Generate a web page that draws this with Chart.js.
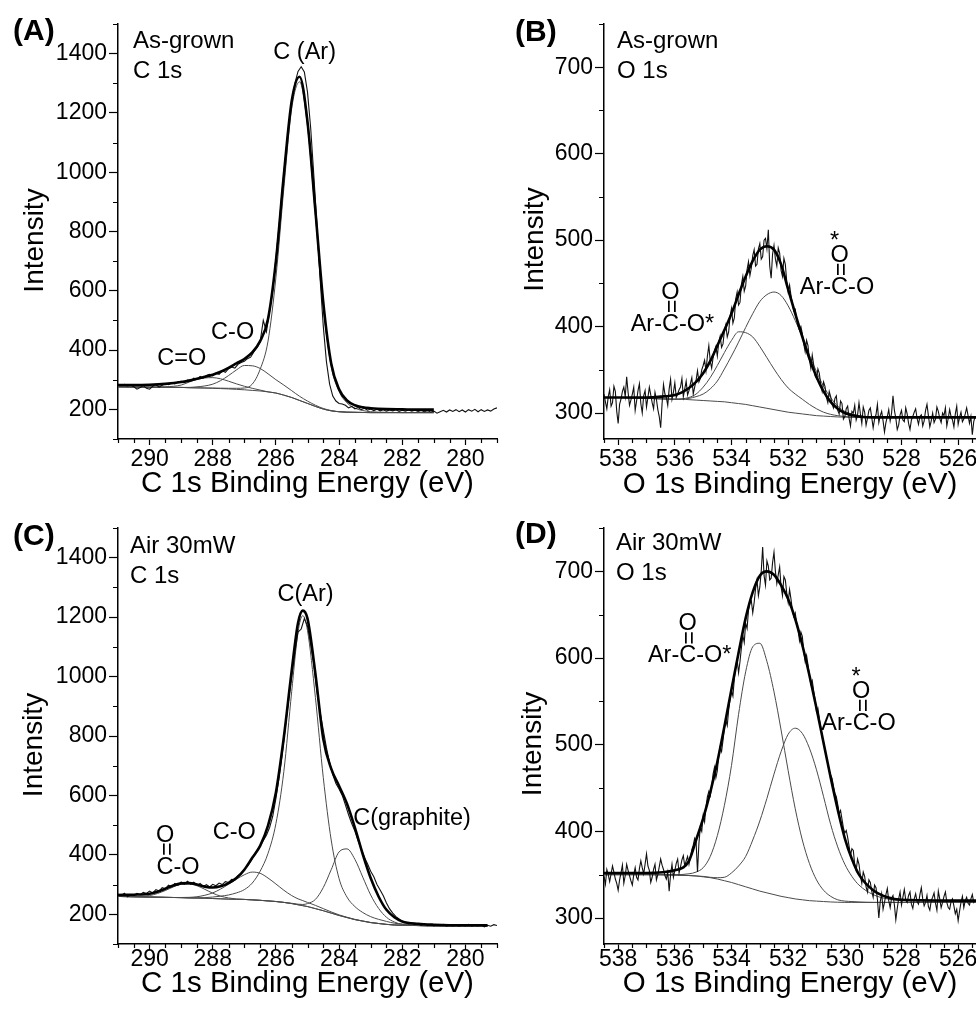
<!DOCTYPE html>
<html>
<head>
<meta charset="utf-8">
<title>XPS C 1s / O 1s</title>
<script src="https://cdn.jsdelivr.net/npm/chart.js@4.4.0/dist/chart.umd.min.js"></script>
<style>
  html, body { margin: 0; padding: 0; background: #fff; }
  #wrap { position: relative; width: 976px; height: 1012px; overflow: hidden; background: #fff; }
  #wrap canvas { position: absolute; }
</style>
</head>
<body>
<div id="wrap">
  <canvas id="panelA" width="520" height="500" style="left:0;top:0"></canvas>
  <canvas id="panelB" width="520" height="500" style="left:488px;top:0"></canvas>
  <canvas id="panelC" width="520" height="512" style="left:0;top:500px"></canvas>
  <canvas id="panelD" width="520" height="512" style="left:488px;top:500px"></canvas>
</div>
<script>
const FONT = "'Liberation Sans', Arial, Helvetica, sans-serif";

// ---------- (A) as-grown, C 1s ----------
const aFitE = [291, 290.5, 290, 289.5, 289, 288.75, 288.5, 288.25, 288, 287.75, 287.5, 287.25, 287,
  286.75, 286.5, 286.25, 286, 285.75, 285.5, 285.25, 285, 284.75, 284.5, 284.25, 284, 283.75,
  283.5, 283.25, 283, 282.5, 282, 281.5, 281];
const aEnvelope = [282, 282, 283, 286, 292, 297, 303, 310, 317, 327, 340, 355, 370,
  392, 430, 505, 700, 990, 1240, 1322, 1170, 870, 560, 355, 268, 230,
  214, 207, 204, 201, 200, 199, 199];
const aCAr = [276, 275.5, 275, 274.5, 274, 273, 272.5, 272, 272, 271.5, 271, 271, 272,
  285, 335, 430, 645, 945, 1215, 1305, 1155, 855, 545, 345, 260, 222,
  204, 196, 192, 190, 189, 189, 189];
const aCO = [276, 275.5, 275, 274.5, 274, 274, 276, 279, 285, 297, 314, 333, 348,
  347, 338, 320, 300, 282, 263, 244, 228, 214, 203, 196, 192, 190.5,
  190, 189.5, 189, 189, 189, 189, 189];
const aCdO = [276, 275.5, 275, 276, 282, 292, 301, 306, 307, 303, 295, 286, 278,
  271, 265, 259, 255, 248, 240, 230, 220, 210, 201, 195, 192, 190.5,
  190, 189.5, 189, 189, 189, 189, 189];
const aBg = [276, 275.5, 275, 274.5, 274, 273, 272.5, 272, 271, 270, 269, 267.5, 266,
  264, 262, 259, 255, 248, 240, 230, 220, 210, 201, 195, 192, 190.5,
  190, 189.5, 189, 189, 189, 189, 189];
// measured counts, 291.0 eV down to 279.0 eV every 0.1 eV
const aRawStart = 291, aRawStep = 0.1;
const aRaw = [
  283, 280, 284, 279, 282, 276, 268, 274, 280, 271,
  268, 278, 284, 275, 281, 287, 283, 290, 286, 293,
  295, 291, 299, 296, 305, 301, 311, 306, 314, 318,
  313, 322, 318, 330, 325, 337, 343, 339, 352, 358,
  362, 371, 376, 394, 408, 428, 500, 462, 530, 600,
  710, 820, 940, 1050, 1150, 1240, 1300, 1340, 1356, 1338,
  1270, 1150, 990, 820, 640, 480, 360, 285, 245, 228,
  220, 218, 214, 205, 210, 202, 206, 199, 204, 197,
  201, 196, 200, 195, 199, 194, 198, 195, 199, 193,
  197, 194, 198, 194, 197, 193, 196, 192, 195, 191,
  194, 187, 192, 197, 191, 198, 193, 199, 192, 198,
  191, 199, 194, 200, 192, 199, 193, 198, 194, 201,
  205];

// ---------- (B) as-grown, O 1s ----------
const bFitE = [538.5, 538, 537.5, 537, 536.5, 536, 535.75, 535.5, 535.25, 535, 534.75, 534.5,
  534.25, 534, 533.75, 533.5, 533.25, 533, 532.75, 532.5, 532.25, 532, 531.75, 531.5,
  531.25, 531, 530.75, 530.5, 530.25, 530, 529.5, 529, 528, 527, 526, 525.37];
const bEnvelope = [318, 318, 318, 318, 319, 321, 324, 329, 336, 346, 360, 378,
  396, 415, 437, 458, 476, 489, 493, 489, 472, 443, 415, 388,
  363, 342, 325, 313, 305, 300, 296, 295, 295, 295, 295, 295];
const bArCOstar = [318, 318, 317.5, 317, 316.5, 316, 316.5, 318, 322, 330, 341, 355,
  370, 384, 394, 393, 388, 377, 364, 351, 339, 329, 322, 316,
  310, 305, 301, 298.5, 297, 296, 295, 295, 295, 295, 295, 295];
const bArCO = [318, 318, 317.5, 317, 316.5, 316, 316, 317, 319, 322, 328, 337,
  351, 366, 382, 399, 415, 429, 437, 440, 436, 424, 407, 388,
  367, 348, 331, 318, 308, 302, 297, 295, 295, 295, 295, 295];
const bBg = [318, 318, 317.5, 317, 316.5, 316, 316, 315.5, 315, 314.5, 314, 313.5,
  313, 312, 311, 310, 308.5, 307, 305.5, 304, 302.5, 301, 300, 299,
  298, 297, 296.5, 296, 295.5, 295.3, 295, 295, 295, 295, 295, 295];
// measured counts, 538.5 eV down to 525.4 eV every 0.05 eV
const bRawStart = 538.5, bRawStep = 0.05;
const bRaw = [
  322, 313, 305, 319, 327, 308, 312, 331, 325, 302, 288, 310, 316, 325, 330, 319, 342, 324, 309, 315,
  322, 330, 303, 314, 326, 334, 311, 300, 320, 326, 307, 318, 330, 321, 312, 305, 324, 316, 304, 296,
  283, 311, 333, 322, 318, 309, 328, 339, 316, 324, 335, 318, 322, 327, 330, 340, 319, 328, 337, 321,
  326, 334, 341, 322, 330, 338, 349, 336, 340, 350, 355, 361, 349, 366, 378, 360, 352, 364, 372, 377,
  366, 382, 389, 376, 380, 395, 402, 388, 394, 412, 421, 404, 410, 432, 440, 425, 428, 449, 458, 441,
  447, 466, 475, 459, 468, 482, 489, 470, 472, 490, 496, 478, 481, 500, 502, 490, 512, 470, 456, 484,
  494, 478, 470, 491, 485, 465, 458, 479, 472, 452, 440, 448, 436, 426, 418, 420, 409, 401, 396, 400,
  392, 380, 371, 384, 378, 362, 352, 367, 356, 343, 340, 351, 346, 333, 325, 336, 331, 318, 312, 325,
  319, 310, 306, 317, 320, 303, 299, 314, 311, 293, 296, 305, 308, 294, 285, 302, 300, 309, 292, 298,
  312, 299, 288, 307, 301, 286, 294, 303, 306, 295, 283, 293, 298, 310, 289, 297, 302, 291, 278, 289,
  296, 304, 291, 300, 320, 303, 294, 281, 286, 298, 303, 292, 290, 306, 299, 288, 281, 292, 296, 301,
  305, 294, 287, 296, 298, 285, 291, 303, 310, 297, 284, 291, 300, 289, 293, 307, 302, 294, 289, 300,
  297, 306, 285, 294, 304, 296, 292, 284, 299, 308, 287, 295, 301, 290, 293, 299, 306, 297, 288, 296,
  275, 290, 296];

// ---------- (C) air 30 mW, C 1s ----------
const cFitE = [291, 290.5, 290, 289.75, 289.5, 289.25, 289, 288.75, 288.5, 288.25, 288,
  287.75, 287.5, 287.25, 287, 286.75, 286.5, 286.25, 286, 285.75, 285.5, 285.3, 285.15,
  285, 284.75, 284.5, 284.25, 284, 283.75, 283.5, 283.25, 283, 282.75, 282.5, 282.25,
  282, 281.5, 281, 280, 279.3];
const cEnvelope = [265, 266, 269, 276, 286, 297, 304, 305, 300, 293, 290,
  294, 305, 322, 350, 390, 430, 498, 610, 795, 1020, 1180, 1222,
  1195, 1010, 790, 690, 632, 572, 492, 402, 322, 260, 215, 190,
  176, 168, 165, 163, 163];
const cCAr = [260, 259, 258, 257.5, 257, 256.5, 256, 255.5, 255.5, 256, 258,
  261, 265, 272, 283, 305, 345, 405, 505, 680, 950, 1150, 1205,
  1155, 930, 660, 450, 320, 258, 226, 206, 192, 183, 176, 170,
  167, 164, 162, 161, 161];
const cGraphite = [260, 259, 258, 257.5, 257, 256.5, 256, 255, 254.5, 254, 253,
  252, 251, 250.5, 250, 248.5, 247, 245, 243, 240, 237, 234, 233,
  236, 250, 290, 350, 410, 420, 385, 325, 265, 220, 190, 174,
  166, 162, 161, 161, 161];
const cCO = [260, 259, 258, 257.5, 257, 256.5, 256.5, 257, 259, 264, 272,
  285, 301, 318, 333, 342, 338, 322, 302, 281, 263, 252, 246,
  240, 230, 219, 208, 198, 190, 183, 177.5, 172.5, 169, 166, 164,
  163, 162, 161, 161, 161];
const cOCO = [260, 260, 263, 270, 280, 292, 301, 302, 296, 284, 271,
  261, 255, 251.5, 250, 248.5, 247, 245, 243, 240, 236, 232, 229,
  226, 219, 212, 204, 196, 189, 182, 177, 172, 169, 166, 164,
  163, 162, 161, 161, 161];
const cBg = [260, 259, 258, 257.5, 257, 256.5, 256, 255, 254.5, 254, 253,
  252, 251, 250.5, 250, 248.5, 247, 245, 243, 240, 236, 232, 229,
  226, 219, 212, 204, 196, 189, 182, 177, 172, 169, 166, 164,
  163, 162, 161, 161, 161];
// measured counts, 291.0 eV down to 279.0 eV every 0.1 eV
const cRawStart = 291, cRawStep = 0.1;
const cRaw = [
  268, 262, 271, 259, 266, 263, 270, 266, 274, 270,
  278, 272, 283, 278, 290, 286, 298, 293, 304, 298,
  309, 301, 311, 302, 308, 298, 304, 294, 300, 292,
  301, 296, 305, 300, 310, 307, 318, 316, 330, 336,
  352, 362, 378, 398, 415, 430, 448, 466, 492, 530,
  590, 660, 740, 830, 920, 1000, 1080, 1150, 1160, 1195,
  1170, 1110, 1040, 950, 880, 820, 760, 710, 670, 640,
  622, 600, 568, 535, 505, 480, 448, 420, 392, 370,
  345, 326, 300, 282, 262, 238, 218, 204, 192, 184,
  176, 172, 168, 170, 165, 168, 163, 167, 162, 166,
  161, 165, 162, 166, 160, 164, 161, 165, 160, 164,
  161, 166, 160, 164, 161, 165, 158, 163, 160, 165,
  162];

// ---------- (D) air 30 mW, O 1s ----------
const dFitE = [538.5, 537, 536, 535.5, 535.25, 535, 534.75, 534.5, 534.25, 534, 533.75,
  533.5, 533.25, 533, 532.75, 532.5, 532.25, 532, 531.75, 531.5, 531.25, 531, 530.75,
  530.5, 530.25, 530, 529.75, 529.5, 529, 528.5, 528, 525.37];
const dEnvelope = [352, 352, 355, 366, 390, 415, 445, 480, 521, 564, 606,
  646, 676, 695, 700, 696, 684, 668, 645, 615, 580, 542, 502,
  462, 425, 392, 368, 350, 332, 324, 321, 320];
const dArCOstar = [350, 350, 350, 351, 353, 358, 371, 395, 430, 476, 535,
  584, 613, 617, 596, 561, 517, 470, 426, 390, 363, 344, 332,
  325, 321, 319.5, 319, 318.5, 318, 318, 318, 318];
const dArCO = [350, 350, 349.5, 349, 348.5, 348, 347, 346.5, 347, 352, 360,
  371, 390, 412, 438, 466, 492, 512, 519, 513, 496, 471, 440,
  408, 382, 362, 348, 338, 327, 322, 320, 319];
const dBg = [350, 350, 349.5, 349, 348.5, 347.5, 346.5, 345, 343, 341, 338.5,
  336, 333.5, 331, 329, 327, 325, 323.5, 322, 321, 320, 319.5, 319,
  318.5, 318.2, 318, 318, 318, 318, 318, 318, 318];
// measured counts, 538.5 eV down to 525.4 eV every 0.05 eV
const dRawStart = 538.5, dRawStep = 0.05;
const dRaw = [
  348, 339, 356, 350, 342, 351, 360, 353, 345, 340, 332, 344, 352, 361, 340, 349, 362, 355, 349, 343,
  338, 350, 358, 347, 344, 357, 366, 358, 351, 362, 374, 360, 355, 341, 347, 356, 362, 344, 350, 359,
  368, 361, 356, 349, 345, 353, 331, 350, 362, 347, 355, 363, 368, 352, 359, 367, 372, 360, 366, 371,
  362, 370, 379, 384, 392, 388, 353, 386, 405, 400, 418, 411, 428, 440, 446, 441, 452, 466, 474, 462,
  470, 488, 497, 492, 505, 519, 528, 522, 540, 553, 562, 556, 576, 591, 598, 583, 596, 612, 626, 618,
  640, 634, 655, 664, 666, 652, 664, 680, 690, 672, 682, 700, 728, 695, 684, 712, 706, 690, 692, 710,
  722, 700, 686, 696, 705, 682, 672, 694, 690, 675, 664, 679, 668, 655, 648, 652, 640, 633, 620, 630,
  625, 608, 596, 603, 592, 580, 570, 574, 562, 552, 538, 542, 530, 520, 509, 503, 494, 486, 478, 470,
  465, 461, 452, 444, 440, 431, 420, 424, 414, 404, 398, 401, 393, 383, 372, 380, 378, 361, 355, 368,
  362, 349, 340, 353, 348, 336, 330, 344, 341, 331, 324, 338, 335, 322, 300, 319, 328, 310, 318, 327,
  334, 320, 312, 323, 326, 315, 298, 311, 322, 330, 315, 324, 333, 321, 318, 326, 330, 316, 311, 322,
  328, 319, 316, 327, 335, 322, 314, 318, 326, 313, 309, 320, 324, 329, 317, 309, 331, 322, 312, 318,
  325, 330, 318, 312, 310, 319, 322, 314, 305, 310, 297, 308, 318, 325, 312, 320, 324, 317, 315, 322,
  327, 318, 320];

// ---------- helpers ----------
function stepValues(min, max, step) {
  const out = [];
  for (let k = Math.ceil(min / step - 1e-9); k * step <= max + 1e-9; k++) {
    out.push(+(k * step).toFixed(4));
  }
  return out;
}
function isMultiple(v, step) {
  return Math.abs(v / step - Math.round(v / step)) < 1e-6;
}

// minor ticks, panel letter, captions, axis titles and peak assignments
function decorations(p) {
  return {
    id: 'decorations',
    afterDraw(chart) {
      const { ctx, chartArea: ca } = chart;
      const xs = chart.scales.x, ys = chart.scales.y;
      ctx.save();

      // minor ticks
      ctx.strokeStyle = '#000';
      ctx.lineWidth = 1.2;
      ctx.beginPath();
      stepValues(xs.min, xs.max, p.xMinor).forEach(v => {
        if (isMultiple(v, p.xMajor)) return;
        const px = Math.round(xs.getPixelForValue(v)) + 0.5;
        ctx.moveTo(px, ca.bottom);
        ctx.lineTo(px, ca.bottom + 4);
      });
      stepValues(ys.min, ys.max, p.yMinor).forEach(v => {
        if (isMultiple(v, p.yMajor)) return;
        const py = Math.round(ys.getPixelForValue(v)) + 0.5;
        ctx.moveTo(ca.left, py);
        ctx.lineTo(ca.left - 5, py);
      });
      ctx.stroke();

      ctx.fillStyle = '#000';
      ctx.textBaseline = 'alphabetic';

      // panel letter
      ctx.textAlign = 'left';
      ctx.font = 'bold 30px ' + FONT;
      ctx.fillText(p.letter, p.letterAt[0], p.letterAt[1]);

      // sample / core level caption
      ctx.font = '24px ' + FONT;
      p.caption.forEach((line, i) => {
        ctx.fillText(line, p.captionAt[0], p.captionAt[1] + i * 30);
      });

      // axis titles
      ctx.textAlign = 'center';
      ctx.font = '29.5px ' + FONT;
      ctx.fillText(p.xTitle, (ca.left + ca.right) / 2, p.xTitleY);
      ctx.font = '28px ' + FONT;
      ctx.save();
      ctx.translate(p.yTitleX, (ca.top + ca.bottom) / 2 + p.yTitleShift);
      ctx.rotate(-Math.PI / 2);
      ctx.fillText('Intensity', 0, 0);
      ctx.restore();

      // peak assignments, anchored in data coordinates
      ctx.font = '23.5px ' + FONT;
      p.peaks.forEach(pk => {
        const px = xs.getPixelForValue(pk.e);
        const py = ys.getPixelForValue(pk.v);
        ctx.textAlign = pk.align || 'left';
        ctx.fillText(pk.text, px, py);
        if (pk.carbonyl === undefined) return;
        // double-bonded O stacked over the carbon
        const pre = ctx.measureText(pk.text.slice(0, pk.carbonyl)).width;
        const cx = px + pre + ctx.measureText('C').width / 2;
        ctx.textAlign = 'center';
        ctx.fillText('O', cx, py - 32);
        ctx.save();
        ctx.translate(cx, py - 24.5);
        ctx.rotate(Math.PI / 2);
        ctx.textBaseline = 'middle';
        ctx.fillText('=', 0, 0);
        ctx.restore();
        if (pk.star) ctx.fillText('*', cx - 5, py - 46);
      });
      ctx.restore();
    }
  };
}

function buildPanel(canvasId, p) {
  const fit = vals => p.fitE.map((e, i) => ({ x: e, y: vals[i] }));
  const raw = p.raw.map((v, i) => ({ x: +(p.rawStart - i * p.rawStep).toFixed(3), y: v }));
  const thin = (vals, order) => ({
    data: fit(vals), borderColor: '#4a4a4a', borderWidth: 1,
    cubicInterpolationMode: 'monotone', order
  });

  const datasets = [
    { data: fit(p.envelope), borderColor: '#000', borderWidth: 2.6,
      cubicInterpolationMode: 'monotone', order: 0 },
    { data: raw, borderColor: '#111', borderWidth: 1.1, tension: 0, order: 1 }
  ];
  p.components.forEach((c, i) => datasets.push(thin(c, 2 + i)));
  datasets.push(thin(p.bg, 9));

  const tickFont = { family: FONT, size: 23 };

  return new Chart(document.getElementById(canvasId), {
    type: 'line',
    data: { datasets },
    options: {
      responsive: false,
      animation: false,
      devicePixelRatio: 1,
      events: [],
      elements: { point: { radius: 0 }, line: { fill: false } },
      layout: { padding: { left: 0, right: p.padRight, top: p.padTop, bottom: 0 } },
      plugins: { legend: { display: false }, tooltip: { enabled: false } },
      scales: {
        x: {
          type: 'linear',
          reverse: true,
          min: p.xMin,
          max: p.xMax,
          afterBuildTicks: ax => { ax.ticks = stepValues(p.xMin, p.xMax, p.xMajor).map(v => ({ value: v })); },
          afterFit: ax => { ax.height = p.xAxisH; },
          ticks: { font: tickFont, color: '#000', padding: p.xLabelPad, maxRotation: 0, minRotation: 0,
                   autoSkip: false, callback: v => String(v) },
          grid: { drawOnChartArea: false, tickLength: 6, tickWidth: 1.2, tickColor: '#000' },
          border: { color: '#000', width: 1.5 }
        },
        y: {
          type: 'linear',
          min: p.yMin,
          max: p.yMax,
          afterBuildTicks: ax => { ax.ticks = stepValues(p.yMin, p.yMax, p.yMajor).map(v => ({ value: v })); },
          afterFit: ax => { ax.width = p.yAxisW; },
          ticks: { font: tickFont, color: '#000', padding: 2, autoSkip: false, callback: v => String(v) },
          grid: { drawOnChartArea: false, tickLength: 9, tickWidth: 1.2, tickColor: '#000' },
          border: { color: '#000', width: 1.5 }
        }
      }
    },
    plugins: [decorations(p)]
  });
}

const c1sTitle = 'C 1s Binding Energy (eV)';
const o1sTitle = 'O 1s Binding Energy (eV)';

buildPanel('panelA', {
  fitE: aFitE, envelope: aEnvelope, components: [aCAr, aCO, aCdO], bg: aBg,
  raw: aRaw, rawStart: aRawStart, rawStep: aRawStep,
  xMin: 279, xMax: 291, xMajor: 2, xMinor: 0.5,
  yMin: 100, yMax: 1500, yMajor: 200, yMinor: 100,
  padTop: 24, padRight: 23, xAxisH: 61, yAxisW: 118, xLabelPad: 1,
  letter: '(A)', letterAt: [13, 40], caption: ['As-grown', 'C 1s'], captionAt: [133, 48],
  xTitle: c1sTitle, xTitleY: 492, yTitleX: 43, yTitleShift: 9,
  peaks: [
    { text: 'C (Ar)', e: 285.09, v: 1382, align: 'center' },
    { text: 'C-O', e: 287.37, v: 436, align: 'center' },
    { text: 'C=O', e: 288.98, v: 350, align: 'center' }
  ]
});

buildPanel('panelB', {
  fitE: bFitE, envelope: bEnvelope, components: [bArCOstar, bArCO], bg: bBg,
  raw: bRaw, rawStart: bRawStart, rawStep: bRawStep,
  xMin: 525.37, xMax: 538.5, xMajor: 2, xMinor: 0.5,
  yMin: 270, yMax: 750, yMajor: 100, yMinor: 50,
  padTop: 24, padRight: 32, xAxisH: 61, yAxisW: 116, xLabelPad: 1,
  letter: '(B)', letterAt: [27, 41], caption: ['As-grown', 'O 1s'], captionAt: [129, 48],
  xTitle: o1sTitle, xTitleY: 493, yTitleX: 55, yTitleShift: 8,
  peaks: [
    { text: 'Ar-C-O*', e: 537.56, v: 395, carbonyl: 3 },
    { text: 'Ar-C-O', e: 531.59, v: 438, carbonyl: 3, star: true }
  ]
});

buildPanel('panelC', {
  fitE: cFitE, envelope: cEnvelope, components: [cCAr, cGraphite, cCO, cOCO], bg: cBg,
  raw: cRaw, rawStart: cRawStart, rawStep: cRawStep,
  xMin: 279, xMax: 291, xMajor: 2, xMinor: 0.5,
  yMin: 100, yMax: 1500, yMajor: 200, yMinor: 100,
  padTop: 28, padRight: 23, xAxisH: 68, yAxisW: 118, xLabelPad: -4,
  letter: '(C)', letterAt: [13, 45], caption: ['Air 30mW', 'C 1s'], captionAt: [130, 53],
  xTitle: c1sTitle, xTitleY: 492, yTitleX: 42, yTitleShift: 9,
  peaks: [
    { text: 'C(Ar)', e: 285.06, v: 1256, align: 'center' },
    { text: 'C(graphite)', e: 283.55, v: 500 },
    { text: 'C-O', e: 287.32, v: 455, align: 'center' },
    { text: 'C-O', e: 289.78, v: 337, carbonyl: 0 }
  ]
});

buildPanel('panelD', {
  fitE: dFitE, envelope: dEnvelope, components: [dArCOstar, dArCO], bg: dBg,
  raw: dRaw, rawStart: dRawStart, rawStep: dRawStep,
  xMin: 525.37, xMax: 538.5, xMajor: 2, xMinor: 0.5,
  yMin: 270, yMax: 750, yMajor: 100, yMinor: 50,
  padTop: 28, padRight: 32, xAxisH: 68, yAxisW: 116, xLabelPad: -4,
  letter: '(D)', letterAt: [27, 43], caption: ['Air 30mW', 'O 1s'], captionAt: [128, 50],
  xTitle: o1sTitle, xTitleY: 492, yTitleX: 53, yTitleShift: 8,
  peaks: [
    { text: 'Ar-C-O*', e: 536.95, v: 595, carbonyl: 3 },
    { text: 'Ar-C-O', e: 530.83, v: 517, carbonyl: 3, star: true }
  ]
});
</script>
</body>
</html>
